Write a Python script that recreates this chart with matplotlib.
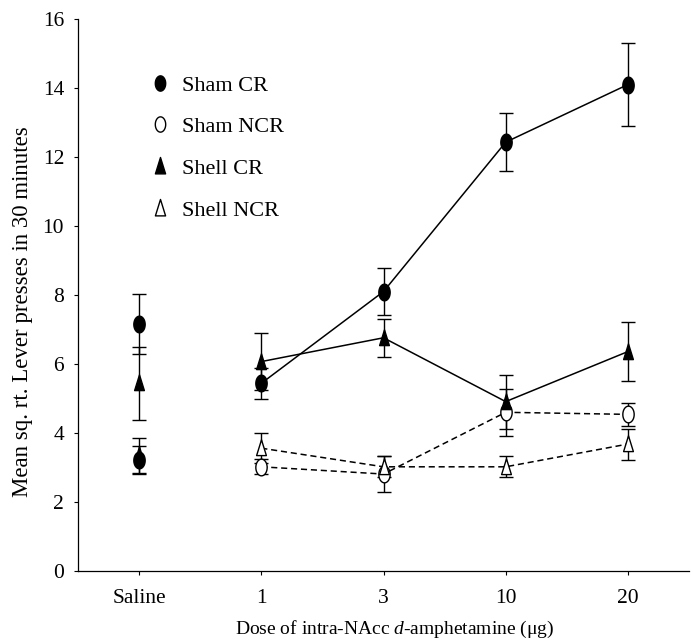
import numpy as np
import matplotlib
matplotlib.use("Agg")
import matplotlib.pyplot as plt
from matplotlib.path import Path
from matplotlib.lines import Line2D

plt.rcParams['font.family'] = ['Liberation Serif', 'DejaVu Serif']
plt.rcParams['mathtext.fontset'] = 'custom'
plt.rcParams['mathtext.rm'] = 'Liberation Serif'
plt.rcParams['mathtext.it'] = 'Liberation Serif:italic'

# ---- data ----
doses = ['Saline', '1', '3', '10', '20']
sham_cr = [7.16, 5.44, 8.10, 12.43, 14.10]
sham_cr_err = [0.87, 0.45, 0.68, 0.85, 1.20]
sham_ncr = [3.22, 3.02, 2.81, 4.60, 4.54]
sham_ncr_err = [0.40, 0.22, 0.52, 0.68, 0.34]
shell_cr = [5.44, 6.07, 6.76, 4.91, 6.36]
shell_cr_err = [1.05, 0.82, 0.55, 0.78, 0.85]
shell_ncr = [3.35, 3.56, 3.02, 3.02, 3.68]
shell_ncr_err = [0.50, 0.43, 0.30, 0.30, 0.45]
labels = ['Sham CR', 'Sham NCR', 'Shell CR', 'Shell NCR']
yticks = [0, 2, 4, 6, 8, 10, 12, 14, 16]

# ---- custom markers (tall ellipse / tall triangle) ----
t = np.linspace(0, 2 * np.pi, 60)
ell = Path(np.column_stack([0.34 * np.cos(t), 0.5 * np.sin(t)]), closed=True)
tri = Path([(0, 0.55), (-0.31, -0.45), (0.31, -0.45), (0, 0.55)], closed=True)

fig = plt.figure(figsize=(6.93, 6.44), dpi=100)
ax = fig.add_axes([78 / 693, 1 - 571 / 644, 611 / 693, (571 - 19) / 644])

x = np.arange(len(doses))

series = [
    (sham_cr, sham_cr_err, ell, 'black', '-', 12),
    (sham_ncr, sham_ncr_err, ell, 'white', (0, (4, 2.5)), 12),
    (shell_cr, shell_cr_err, tri, 'black', '-', 12.5),
    (shell_ncr, shell_ncr_err, tri, 'white', (0, (4, 2.5)), 12.5),
]

for vals, errs, mk, fc, ls, ms in series:
    vals = np.array(vals)
    errs = np.array(errs)
    ax.errorbar(x, vals, yerr=errs, fmt='none', ecolor='black', elinewidth=1.0,
                capsize=5, capthick=1.0, zorder=2)
    ax.plot(x[1:], vals[1:], color='black', lw=1.1, ls=ls, zorder=3)
    ax.plot(x[1:], vals[1:], ls='none', marker=mk, ms=ms, mfc=fc, mec='black',
            mew=1.0, zorder=4)
    # saline point (NCR symbols appear solid in the original due to overlap)
    ax.plot(x[:1], vals[:1], ls='none', marker=mk, ms=ms, mfc='black', mec='black',
            mew=1.0, zorder=4)

ax.set_xlim(-0.5, 4.5)
ax.set_ylim(0, 16)
ax.set_xticks(x)
ax.set_xticklabels(doses)
ax.set_yticks(yticks)
ax.tick_params(axis='x', length=3, width=0.8, pad=10, labelsize=15.5)
ax.tick_params(axis='y', length=3, width=0.8, pad=7, labelsize=15.5)
for s in ['top', 'right']:
    ax.spines[s].set_visible(False)
for s in ['left', 'bottom']:
    ax.spines[s].set_linewidth(0.9)

ax.set_xlabel('Dose of intra-NAcc $d$-amphetamine (μg)', fontsize=14)
ax.xaxis.set_label_coords(0.519, -0.086)
ax.set_ylabel('Mean sq. rt. Lever presses in 30 minutes', fontsize=16.5)
ax.yaxis.set_label_coords(-0.074, 0.469)

handles = [
    Line2D([], [], ls='none', marker=ell, ms=11, mfc='black', mec='black'),
    Line2D([], [], ls='none', marker=ell, ms=11, mfc='white', mec='black'),
    Line2D([], [], ls='none', marker=tri, ms=13, mfc='black', mec='black'),
    Line2D([], [], ls='none', marker=tri, ms=13, mfc='white', mec='black'),
]
fig.legend(handles, labels, loc='upper left', bbox_to_anchor=(149 / 693, 1 - 75 / 644),
           bbox_transform=fig.transFigure, frameon=False, fontsize=16,
           handlelength=1.0, handletextpad=0.5, labelspacing=0.95, borderpad=0,
           borderaxespad=0)

fig.savefig('out.png', dpi=100)
